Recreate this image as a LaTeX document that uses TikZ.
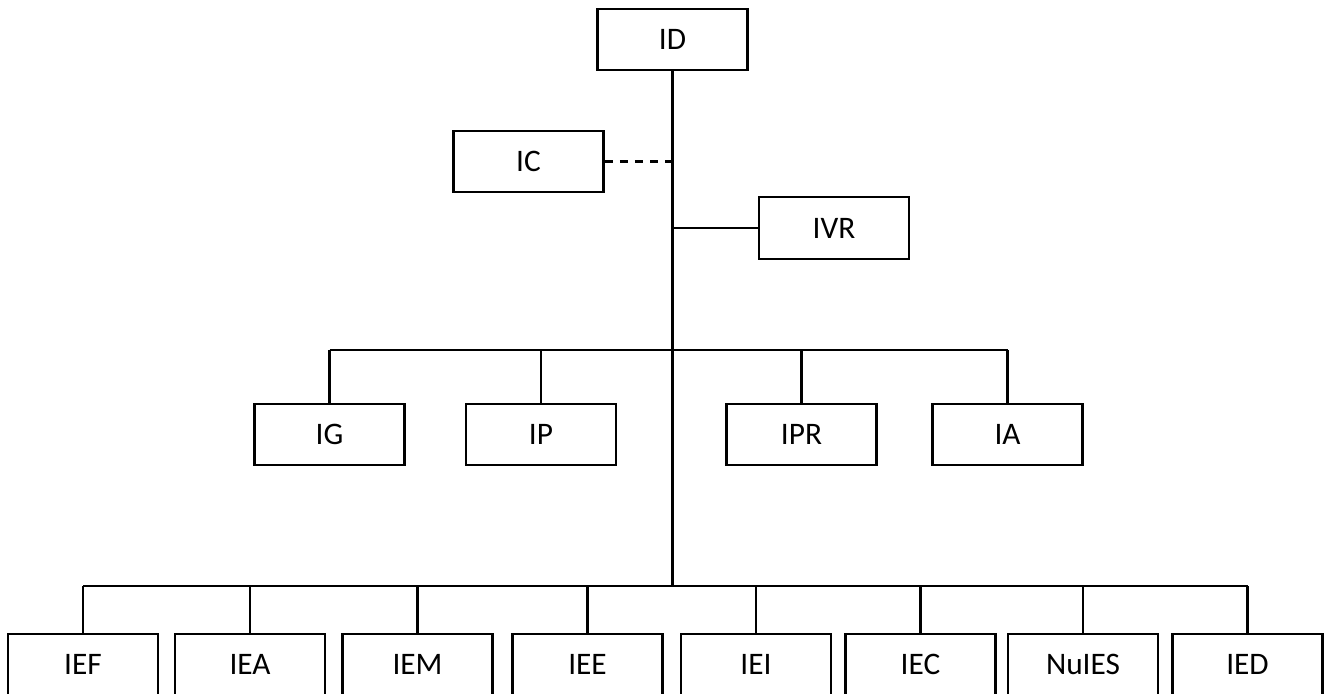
\documentclass[tikz,border=0pt]{standalone}
\usepackage{fontspec}
\setmainfont{Carlito}
\usepackage{tikz}

\begin{document}
\begin{tikzpicture} [x=0.75pt, y=-0.75pt, line width=1.6pt,
		box/.style={draw, minimum width=112.5pt, minimum height=46pt, inner sep=0pt, font=\fontsize{23.5}{27}\selectfont}]
		\useasboundingbox (0, 0) rectangle (1327, 693);
		% top
		\node[box] (ID) at (672.5, 39.5) {ID};
		\node[box] (IC) at (528.5, 161.5) {IC};
		\node[box] (IVR) at (834, 228) {IVR};
		% middle row
		\node[box] (IG) at (329.5, 434.5) {IG};
		\node[box] (IP) at (541, 434.5) {IP};
		\node[box] (IPR) at (801.5, 434.5) {IPR};
		\node[box] (IA) at (1007.5, 434.5) {IA};
		% bottom row
		\node[box] (IEF) at (83, 664.5) {IEF};
		\node[box] (IEA) at (250, 664.5) {IEA};
		\node[box] (IEM) at (417.5, 664.5) {IEM};
		\node[box] (IEE) at (587.5, 664.5) {IEE};
		\node[box] (IEI) at (756, 664.5) {IEI};
		\node[box] (IEC) at (920.5, 664.5) {IEC};
		\node[box] (NuIES) at (1083, 664.5) {NuIES};
		\node[box] (IED) at (1247.5, 664.5) {IED};
		\coordinate (midbus) at (ID.south |- 0, 350);
		\coordinate (lowbus) at (ID.south |- 0, 586);
			\draw (ID.south) -- (lowbus);
			\draw [dash pattern=on 6pt off 5.4pt] (IC.east) -- (IC.east -| ID.south);
			\draw (IVR.west) -- (IVR.west -| ID.south);
				\draw (IG.north |- midbus) -- (IA.north |- midbus);
				\foreach \n in {IG, IP, IPR, IA}
					\draw (\n.north) -- (\n.north |- midbus);
				\draw (IEF.north |- lowbus) -- (IED.north |- lowbus);
				\foreach \n in {IEF, IEA, IEM, IEE, IEI, IEC, NuIES, IED}
					\draw (\n.north) -- (\n.north |- lowbus);
\end{tikzpicture}
\end{document}
